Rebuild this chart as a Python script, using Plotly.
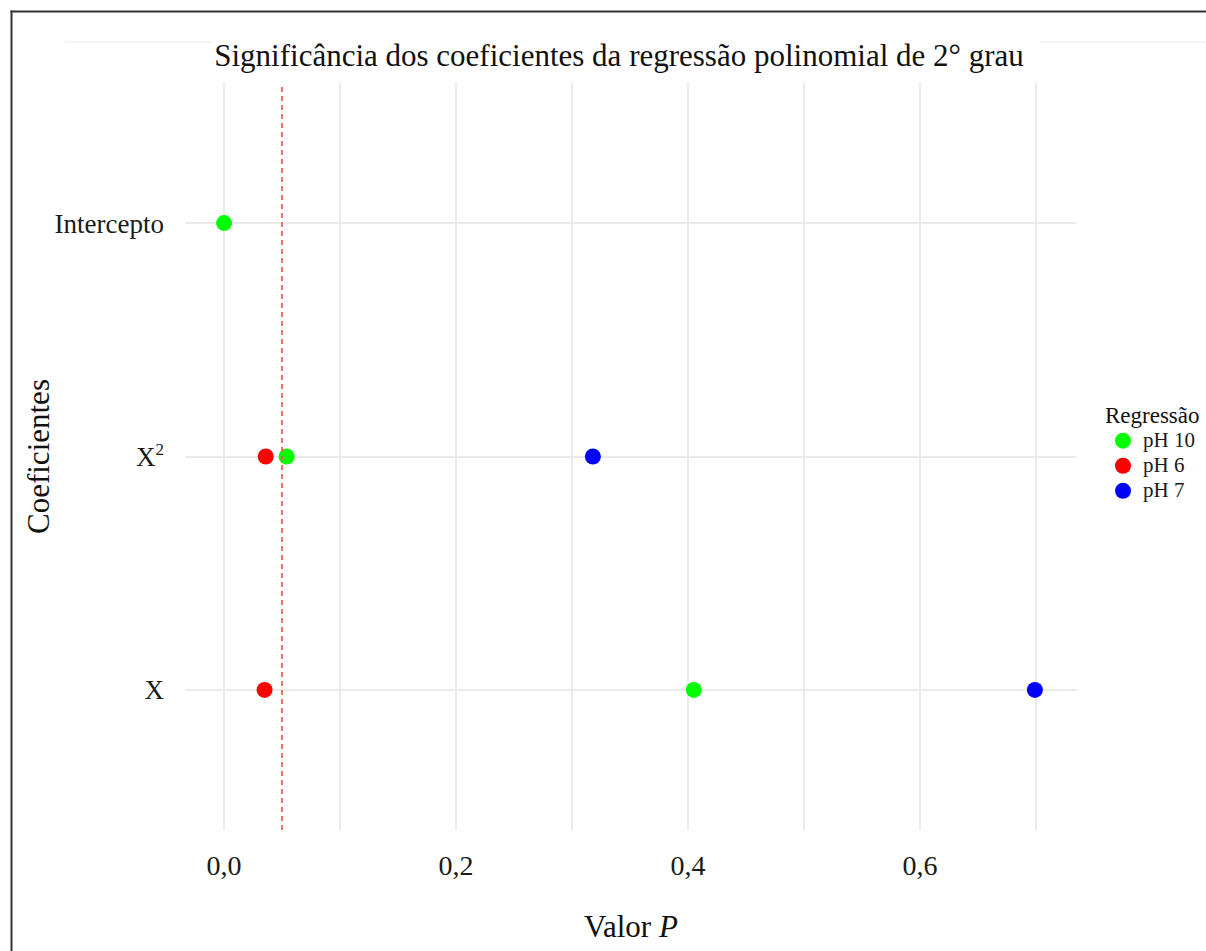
import plotly.graph_objects as go

# Coefficients on the y axis (bottom to top) and p-values per regression
coeficientes = ["X", "X²", "Intercepto"]
coef_labels = ["X", 'X<sup><span style="font-size:17px">2</span></sup>', "Intercepto"]

regressoes = ["pH 10", "pH 6", "pH 7"]
cores = ["#00ff00", "#ff0000", "#0000ff"]

# p-values: (coefficient, value) for each regression
p_ph10 = {"coef": ["Intercepto", "X²", "X"], "p": [0.0001, 0.054, 0.405]}
p_ph6 = {"coef": ["X²", "X"], "p": [0.036, 0.035]}
p_ph7 = {"coef": ["X²", "X"], "p": [0.318, 0.699]}
series = [p_ph10, p_ph6, p_ph7]

alpha = 0.05
x_ticks = [0.0, 0.2, 0.4, 0.6]
x_tick_labels = ["0,0", "0,2", "0,4", "0,6"]
x_minor = [0.1, 0.3, 0.5, 0.7]

W, H = 1206, 951
L, R, T, B = 185, 129, 83, 121
pw, ph = W - L - R, H - T - B

def px_x(x):
    return (x - L) / pw

def px_y(y):
    return (H - B - y) / ph

serif = "Liberation Serif, Times New Roman, serif"
ink = "#111111"

fig = go.Figure()
for nome, cor, s in zip(regressoes, cores, series):
    fig.add_trace(go.Scatter(
        x=s["p"], y=s["coef"], mode="markers",
        name=f'<span style="font-size:21px">{nome}</span>',
        marker=dict(color=cor, size=16, line=dict(width=0)),
        cliponaxis=False,
    ))

# significance threshold
fig.add_shape(type="line", xref="x", yref="paper", x0=alpha, x1=alpha, y0=0, y1=1,
              line=dict(color="rgba(255,80,80,0.85)", width=2, dash="5px,4px"), layer="above")

# outer frame (left and top edges)
fig.add_shape(type="line", xref="paper", yref="paper",
              x0=px_x(11.5), x1=px_x(11.5), y0=px_y(10.5), y1=px_y(H + 2),
              line=dict(color="#333333", width=2))
fig.add_shape(type="line", xref="paper", yref="paper",
              x0=px_x(10.5), x1=px_x(W + 4), y0=px_y(11.5), y1=px_y(11.5),
              line=dict(color="#333333", width=2))
# faint rule behind the title
for a, b in [(65, 212), (1040, 1206)]:
    fig.add_shape(type="line", xref="paper", yref="paper",
                  x0=px_x(a), x1=px_x(b), y0=px_y(42), y1=px_y(42),
                  line=dict(color="#f0f0f0", width=1.5))

# axis titles
fig.add_annotation(text="Valor <i>P</i>", xref="paper", yref="paper",
                   x=px_x(631), y=px_y(926), xanchor="center", yanchor="middle",
                   showarrow=False, font=dict(size=31, family=serif, color=ink))
fig.add_annotation(text="Coeficientes", xref="paper", yref="paper",
                   x=px_x(38), y=px_y(457), xanchor="center", yanchor="middle",
                   textangle=-90, showarrow=False,
                   font=dict(size=31, family=serif, color=ink))

fig.update_layout(
    width=W, height=H,
    margin=dict(l=L, r=R, t=T, b=B, autoexpand=False),
    paper_bgcolor="white", plot_bgcolor="white",
    font=dict(family=serif, color="#1a1a1a"),
    title=dict(text="Significância dos coeficientes da regressão polinomial de 2° grau",
               x=619 / W, xanchor="center", y=1 - 55 / H, yanchor="middle",
               font=dict(size=31, family=serif, color=ink)),
    xaxis=dict(
        range=[-0.0336, 0.7353],
        tickvals=x_ticks, ticktext=x_tick_labels,
        tickfont=dict(size=28, family=serif, color="#1a1a1a"),
        showgrid=True, gridcolor="#ebebeb", gridwidth=2,
        minor=dict(tickvals=x_minor, showgrid=True, gridcolor="#ebebeb", gridwidth=2),
        zeroline=False, showline=False, ticks="", ticklabelstandoff=16,
    ),
    yaxis=dict(
        categoryorder="array", categoryarray=coeficientes,
        range=[-0.6, 2.6],
        tickvals=coeficientes, ticktext=coef_labels,
        tickfont=dict(size=27, family=serif, color="#1a1a1a"),
        showgrid=True, gridcolor="#ebebeb", gridwidth=2,
        zeroline=False, showline=False, ticks="", ticklabelstandoff=20,
    ),
    legend=dict(
        title=dict(text='<span style="font-size:23px">Regressão</span>',
                   font=dict(size=17, family=serif, color=ink)),
        font=dict(size=17, family=serif, color="#1a1a1a"),
        x=px_x(1103), xanchor="left", y=px_y(401), yanchor="top",
        bgcolor="rgba(0,0,0,0)", tracegroupgap=0, itemsizing="trace",
    ),
)

fig.write_html("out.html", config={"displayModeBar": False})
